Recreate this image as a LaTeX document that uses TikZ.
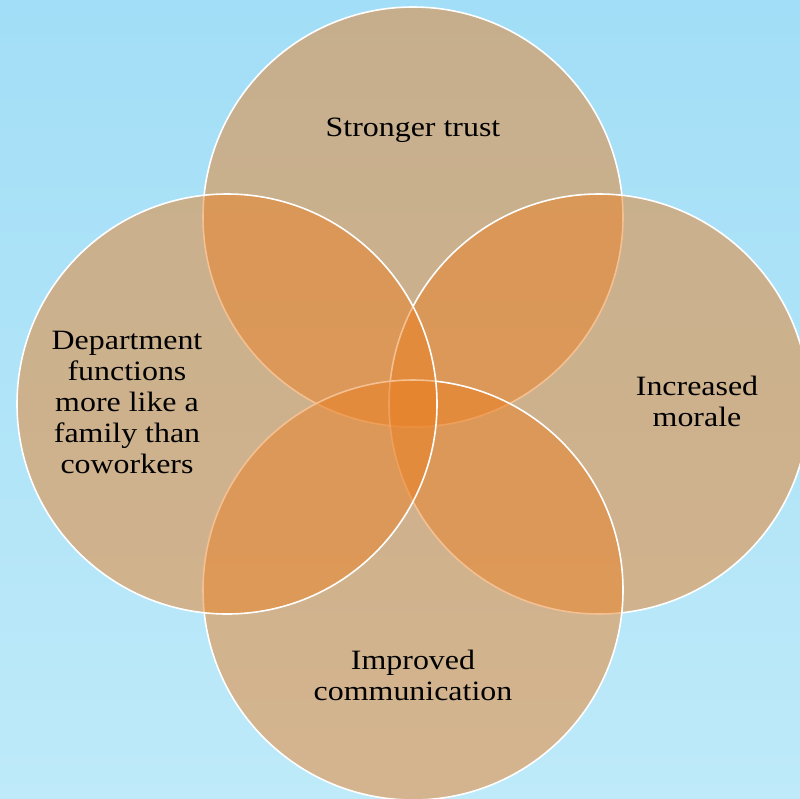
\documentclass[tikz,border=0pt]{standalone}
\usepackage{fontspec}
\setmainfont{Liberation Serif}[FakeStretch=1.14]
\usetikzlibrary{positioning}
\definecolor{skytop}{RGB}{162,222,247}
\definecolor{skybottom}{RGB}{190,234,249}
\definecolor{venncol}{RGB}{234,128,36}
\tikzset{
venn/.style={
  circle,
  draw=white,
  line width=1.6pt,
  fill=venncol,
  fill opacity=0.5,
  minimum size=420pt, inner sep=0pt
  },
txt/.style={
  align=center,
  font=\fontsize{28}{31}\selectfont, text=black
  }
}

\begin{document}
\begin{tikzpicture}[x=1pt, y=-1pt]
\shade[top color=skytop, bottom color=skybottom] (0,0) rectangle (800,798);
\useasboundingbox (0,0) rectangle (800,798);
% circles, back to front
\node[venn] (trust) at (413,217) {};
\node[venn] (morale) at (599,404) {};
\node[venn] (comm) at (413,590) {};
\node[venn] (family) at (227,404) {};
% labels
\node[txt] (trustlbl) at (413,130) {Stronger trust};
\node[txt] (moralelbl) at (697,401) {Increased\\morale};
\node[txt] (commlbl) at (413,675) {Improved\\communication};
\node[txt] (familylbl) at (127,402) {Department\\functions\\more like a\\family than\\coworkers};
\end{tikzpicture}
\end{document}
